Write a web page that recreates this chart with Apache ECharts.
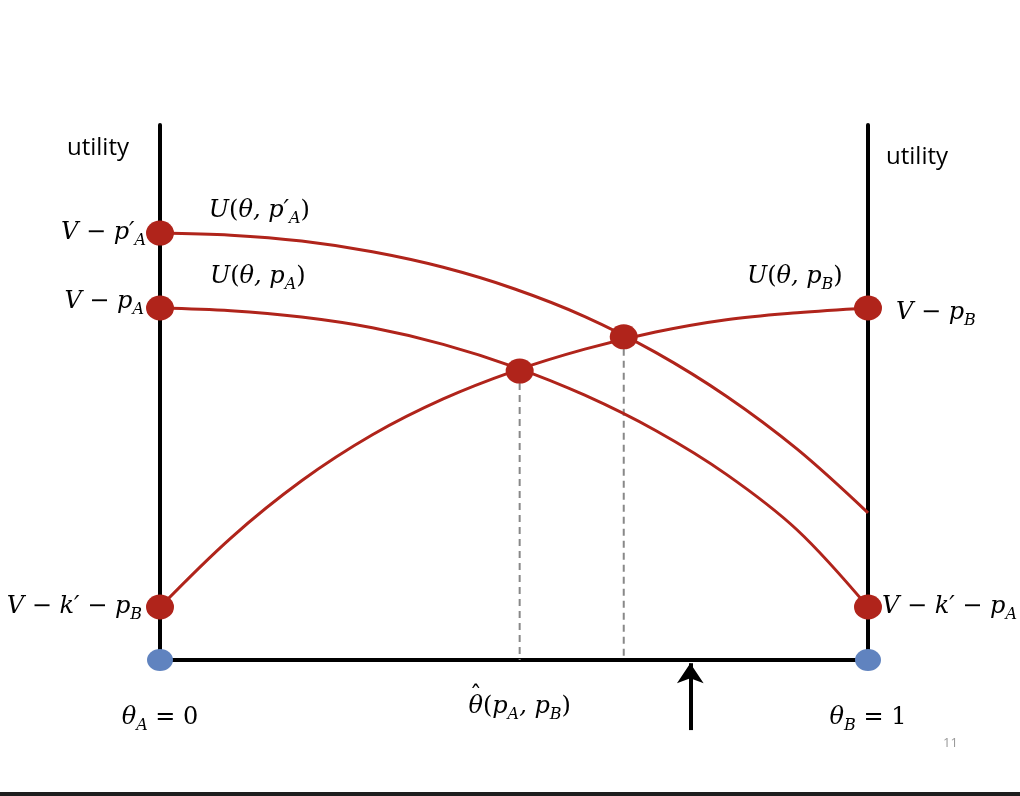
<!DOCTYPE html>
<html><head><meta charset="utf-8">
<script src="https://cdn.jsdelivr.net/npm/echarts@6/dist/echarts.min.js"></script>
<style>html,body{margin:0;padding:0;background:#fff}#c{width:1020px;height:796px}</style>
</head><body><div id="c"></div>
<script>
// ---- data: θ runs 0..1 along the bottom axis, utility on the vertical axes ----
const thetaGrid = [0, 0.1, 0.2, 0.3, 0.4, 0.5, 0.6, 0.7, 0.8, 0.9, 1.0];
const utilUpA   = [7.98, 7.94, 7.83, 7.63, 7.34, 6.94, 6.42, 5.75, 4.93, 3.94, 2.75];
const utilUA    = [6.58, 6.53, 6.41, 6.21, 5.90, 5.48, 4.95, 4.29, 3.47, 2.43, 0.99];
const utilUB    = [0.99, 2.28, 3.35, 4.21, 4.88, 5.40, 5.81, 6.13, 6.36, 6.49, 6.58];

const pointTheta   = [0, 0, 1, 0, 1, 0.508, 0.655];
const pointUtility = [7.98, 6.58, 6.58, 0.99, 0.99, 5.40, 6.04];
const pointLabels  = ['{m|V }{r|−}{m| p′}{s|A}', '{m|V }{r|−}{m| p}{s|A}', '{m|V }{r|−}{m| p}{s|B}',
                      '{m|V }{r|−}{m| k′ }{r|−}{m| p}{s|B}', '{m|V }{r|−}{m| k′ }{r|−}{m| p}{s|A}', '', ''];

const cornerTheta   = [0, 1];
const cornerUtility = [0, 0];

const curveNames       = ['{m|U}{r|(}{m|θ, p′}{s|A}{r|)}', '{m|U}{r|(}{m|θ, p}{s|A}{r|)}', '{m|U}{r|(}{m|θ, p}{s|B}{r|)}'];
const curveNameTheta   = [0.069, 0.0706, 0.829];
const curveNameUtility = [8.39, 7.16, 7.16];

const thetaTickLabels = {0: '{m|θ}{s|A}{r| = 0}', 1: '{m|θ}{s|B}{r| = 1}'};
const cutoffLabel   = '{m|θ}{r|(}{m|p}{s|A}{m|, p}{s|B}{r|)}';
const cutoffHat     = 'ˆ';
const cutoffTheta   = [0.508, 0.655];
const cutoffUtility = [5.40, 6.04];
const cutoffLabelUtility = -0.88;

const arrowTheta = 0.749;
const arrowFrom  = -1.31;
const arrowTo    = -0.06;

const yAxisName  = 'utility';
const pageNumber = '11';

// ---- styles ----
const RED = '#B0241B', BLUE = '#6083BF';
const MATH = 'DejaVu Serif';
const rich = {
  m: {fontFamily: MATH, fontStyle: 'italic', fontSize: 24, lineHeight: 32, color: '#000'},
  r: {fontFamily: MATH, fontSize: 24, lineHeight: 32, color: '#000'},
  s: {fontFamily: MATH, fontStyle: 'italic', fontSize: 16, lineHeight: 16, verticalAlign: 'bottom', color: '#000'}
};
const pointLabelPlacement = [
  {position: 'left', distance: 0, offset: [0, 0]},
  {position: 'left', distance: 2, offset: [0, -6]},
  {position: 'right', distance: 14, offset: [0, 5]},
  {position: 'left', distance: 4, offset: [0, 0]},
  {position: 'right', distance: 0, offset: [0, 0]},
  null, null
];

const zip = (xs, ys) => xs.map((x, i) => [x, ys[i]]);
const curveStyle = {color: RED, width: 3};
const textLabel = (extra) => Object.assign({show: true, color: '#000', opacity: 1, rich: rich}, extra);
const SMOOTH = 0.35;

const option = {
  animation: false,
  backgroundColor: '#fff',
  grid: {left: 160, right: 152, top: 125, bottom: 136},
  xAxis: {
    type: 'value', min: 0, max: 1, interval: 1,
    axisLine: {show: true, onZero: false, lineStyle: {color: '#000', width: 4}},
    axisTick: {show: false}, splitLine: {show: false},
    axisLabel: {show: true, margin: 42, showMinLabel: true, showMaxLabel: true,
      formatter: v => thetaTickLabels[v] || '', rich: rich}
  },
  yAxis: [
    {type: 'value', min: 0, max: 10, position: 'left',
     name: yAxisName, nameLocation: 'end', nameGap: -23,
     nameTextStyle: {fontFamily: 'Open Sans', fontSize: 24, color: '#000', align: 'right', verticalAlign: 'middle', padding: [0, 31, 0, 0]},
     axisLine: {show: true, onZero: false, lineStyle: {color: '#000', width: 4}},
     axisTick: {show: false}, axisLabel: {show: false}, splitLine: {show: false}},
    {type: 'value', min: 0, max: 10, position: 'right',
     name: yAxisName, nameLocation: 'end', nameGap: -32,
     nameTextStyle: {fontFamily: 'Open Sans', fontSize: 24, color: '#000', align: 'left', verticalAlign: 'middle', padding: [0, 0, 0, 18]},
     axisLine: {show: true, onZero: false, lineStyle: {color: '#000', width: 4}},
     axisTick: {show: false}, axisLabel: {show: false}, splitLine: {show: false}}
  ],
  graphic: [
    {type: 'rect', left: 0, bottom: 0, shape: {width: 1020, height: 4}, style: {fill: '#1e1e1e'}},
    {type: 'text', left: 943, top: 737, style: {text: pageNumber, fill: '#999', font: '13px "Open Sans"'}}
  ],
  series: [
    ...cutoffTheta.map((t, i) => ({
      type: 'line', data: [[t, cutoffUtility[i]], [t, 0]], symbol: 'none', z: 1,
      lineStyle: {color: '#888', width: 2, type: [7, 5]}
    })),
    {type: 'line', data: zip(thetaGrid, utilUpA), smooth: SMOOTH, symbol: 'none', lineStyle: curveStyle, z: 2},
    {type: 'line', data: zip(thetaGrid, utilUA), smooth: SMOOTH, symbol: 'none', lineStyle: curveStyle, z: 2},
    {type: 'line', data: zip(thetaGrid, utilUB), smooth: SMOOTH, symbol: 'none', lineStyle: curveStyle, z: 2},
    {
      type: 'lines', coordinateSystem: 'cartesian2d', clip: false, z: 3,
      symbol: ['none', 'arrow'], symbolSize: [20, 20],
      lineStyle: {color: '#000', width: 4, opacity: 1, curveness: 0},
      data: [{coords: [[arrowTheta, arrowFrom], [arrowTheta, arrowTo]]}]
    },
    {
      type: 'scatter', z: 5, clip: false, symbol: 'circle', symbolSize: [28, 25],
      itemStyle: {color: RED, opacity: 1},
      data: pointTheta.map((t, i) => {
        const p = pointLabelPlacement[i];
        return {
          value: [t, pointUtility[i]],
          label: p ? textLabel({position: p.position, distance: p.distance, offset: p.offset,
                      formatter: pointLabels[i]}) : {show: false}
        };
      })
    },
    {
      type: 'scatter', z: 5, clip: false, symbol: 'circle', symbolSize: [26, 22],
      itemStyle: {color: BLUE, opacity: 1},
      data: zip(cornerTheta, cornerUtility)
    },
    {
      type: 'scatter', z: 6, clip: false, symbolSize: 0, silent: true,
      itemStyle: {opacity: 1},
      data: curveNameTheta.map((t, i) => ({
        value: [t, curveNameUtility[i]],
        label: textLabel({position: 'right', distance: 0, formatter: curveNames[i]})
      }))
    },
    {
      type: 'scatter', z: 6, clip: false, symbolSize: 0, silent: true,
      itemStyle: {opacity: 1},
      data: [
        {value: [cutoffTheta[0], cutoffLabelUtility],
         label: textLabel({position: 'inside', formatter: cutoffLabel})},
        {value: [cutoffTheta[0], cutoffLabelUtility],
         label: textLabel({position: 'inside', offset: [-44, -10], formatter: '{r|' + cutoffHat + '}'})}
      ]
    }
  ]
};

const chart = echarts.init(document.getElementById('c'), null, {renderer: 'canvas'});
chart.setOption(option);
</script>
</body></html>
